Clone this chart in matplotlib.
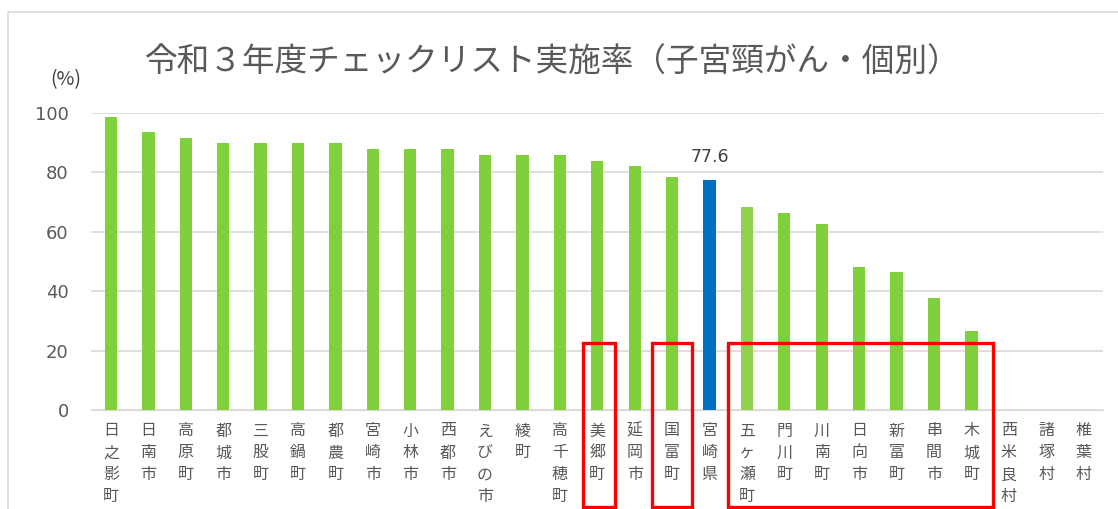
import matplotlib
matplotlib.use('Agg')
import matplotlib.pyplot as plt
from matplotlib.patches import Rectangle

plt.rcParams['font.family'] = ['Noto Sans CJK JP', 'DejaVu Sans']

# Data
municipalities = ['日之影町', '日南市', '高原町', '都城市', '三股町', '高鍋町', '都農町',
                  '宮崎市', '小林市', '西都市', 'えびの市', '綾町', '高千穂町', '美郷町',
                  '延岡市', '国富町', '宮崎県', '五ヶ瀬町', '門川町', '川南町', '日向市',
                  '新富町', '串間市', '木城町', '西米良村', '諸塚村', '椎葉村']
rates = [98.5, 93.5, 91.5, 89.8, 89.8, 89.8, 89.8,
         88.0, 88.0, 88.0, 85.8, 85.8, 85.8, 84.0,
         82.3, 78.6, 77.6, 68.2, 66.4, 62.7, 48.3,
         46.5, 37.6, 26.6, 0, 0, 0]
highlight = '宮崎県'
lighter = '五ヶ瀬町'
yticks = [0, 20, 40, 60, 80, 100]

green = '#7FD03C'
green_light = '#92D050'
blue = '#0070C0'
gray_text = '#595959'

fig = plt.figure(figsize=(11.18, 5.09), dpi=100)
ax = fig.add_axes([91 / 1118, 99 / 509, 1012 / 1118, 297 / 509])

colors = []
for name in municipalities:
    if name == highlight:
        colors.append(blue)
    elif name == lighter:
        colors.append(green_light)
    else:
        colors.append(green)

x = list(range(len(municipalities)))
ax.bar(x, rates, width=0.33, color=colors, zorder=3)

# label only the prefecture bar
hi = municipalities.index(highlight)
ax.text(hi, rates[hi] + 4.5, f'{rates[hi]:.1f}', ha='center', va='bottom',
        fontsize=12.5, color='#404040', family=['DejaVu Sans'])

ax.set_xlim(-0.535, 26.52)
ax.set_ylim(0, 100)
ax.set_yticks(yticks)
ax.set_yticklabels([str(t) for t in yticks], fontsize=13, color=gray_text,
                   family=['DejaVu Sans'])
ax.grid(axis='y', color='#D9D9D9', linewidth=1.2, zorder=0)
ax.set_axisbelow(True)
for s in ['top', 'right', 'left']:
    ax.spines[s].set_visible(False)
ax.spines['bottom'].set_color('#D9D9D9')
ax.tick_params(axis='y', length=0, pad=16)
ax.tick_params(axis='x', length=0, pad=9)
ax.set_xticks(x)
ax.set_xticklabels(['\n'.join(n) for n in municipalities], fontsize=11.5,
                   color=gray_text, linespacing=1.38, va='top')

# red boxes around selected municipalities (data coords)
boxes = [(12.62, 13.48), (14.47, 15.53), (16.5, 23.59)]
for left, right in boxes:
    ax.add_patch(Rectangle((left, -32.7), right - left, 55.3, fill=False,
                           edgecolor='#FF0000', linewidth=2.4, clip_on=False, zorder=5))

fig.text(553 / 1118, 1 - 63 / 509, '令和３年度チェックリスト実施率（子宮頸がん・個別）',
         ha='center', va='center', fontsize=23.5, color=gray_text)
fig.text(66 / 1118, 1 - 80 / 509, '(%)', ha='center', va='center', fontsize=14,
         color='#404040')

# chart area border
fig.add_artist(Rectangle((8 / 1118, -0.1), 1.2, (509 - 12) / 509 + 0.1, fill=False,
                         edgecolor='#D9D9D9', linewidth=1.2, transform=fig.transFigure))

fig.savefig('out.png', dpi=100)
